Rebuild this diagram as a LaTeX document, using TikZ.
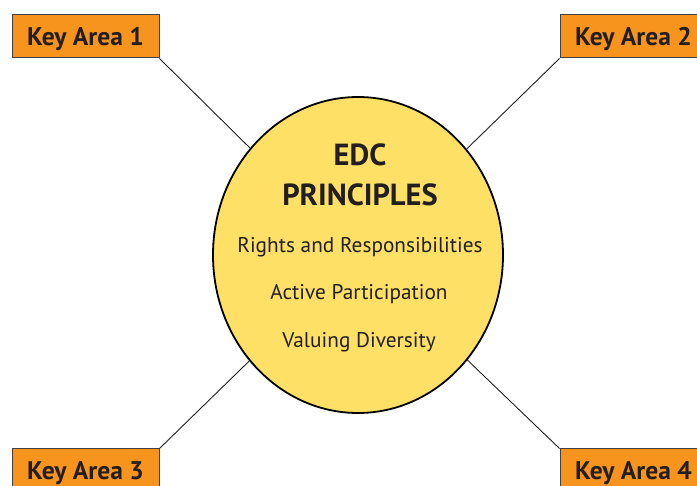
\documentclass[tikz,border=0pt]{standalone}
\usepackage{fontspec}
\setmainfont{PT Sans}
\usetikzlibrary{shapes.geometric}

\definecolor{areaorange}{HTML}{F7941D}
\definecolor{edcyellow}{HTML}{FFE066}
\definecolor{inkgray}{HTML}{231F20}

\tikzset{
    keybox/.style={draw=inkgray!85, line width=1pt, fill=areaorange, text=inkgray,
        minimum width=147pt, minimum height=43pt, inner sep=0pt, text depth=0pt,
        font=\fontsize{25.5}{28}\selectfont\bfseries},
    spoke/.style={draw=inkgray, line width=0.9pt},
    principle/.style={anchor=base, text=inkgray, inner sep=0pt,
        font=\fontsize{21.3}{26}\selectfont}
}

\begin{document}
\begin{tikzpicture}[x=1pt, y=-1pt]
    % Page size
    \useasboundingbox (0,0) rectangle (697,486);
    \clip (0,0) rectangle (697,486);

    % The EDC circle
    \node[ellipse, draw=black, line width=1.8pt, fill=edcyellow,
        minimum width=290pt, minimum height=316pt, inner sep=0pt] (edc) at (358,255) {};

    % Key area boxes
    \node[keybox] (k1) at (85.5,36.5) {Key Area 1};
    \node[keybox] (k2) at (633.5,36.5) {Key Area 2};
    \node[keybox] (k3) at (85.5,470.5) {Key Area 3};
    \node[keybox] (k4) at (633.5,470.5) {Key Area 4};

    % Spokes from the boxes to the circle
    \draw[spoke] (k1.south east) -- (edc);
    \draw[spoke] (k2.south west) -- (edc);
    \draw[spoke] (k3.north east) -- (edc);
    \draw[spoke] (k4.north west) -- (edc);

    % Text in the circle
    \node[principle, font=\fontsize{30.5}{34}\selectfont\bfseries] (title1) at (360,166) {EDC};
    \node[principle, font=\fontsize{30.5}{34}\selectfont\bfseries] (title2) at (360,206) {PRINCIPLES};
    \node[principle] (rights) at (360,253) {Rights and Responsibilities};
    \node[principle] (active) at (359,300) {Active Participation};
    \node[principle] (valuing) at (359,348) {Valuing Diversity};
\end{tikzpicture}
\end{document}
